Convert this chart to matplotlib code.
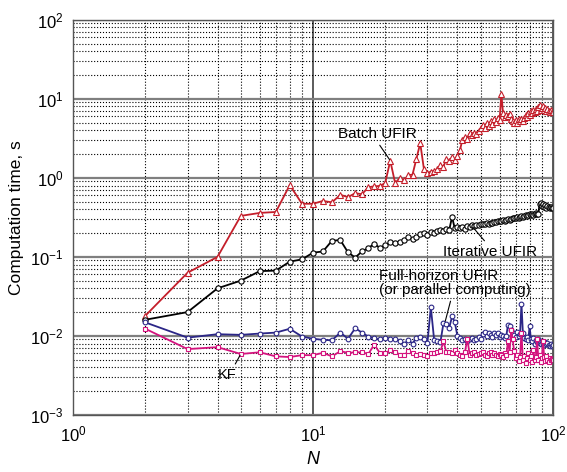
import numpy as np
import matplotlib
matplotlib.use("Agg")
from matplotlib import pyplot as plt

plt.rcParams['font.family'] = ['Liberation Sans', 'DejaVu Sans']
plt.rcParams['mathtext.default'] = 'regular'

# window size N
N = np.arange(2, 101)

# computation time, s
batch_ufir = [0.018, 0.063, 0.10, 0.33, 0.36, 0.37, 0.81, 0.47, 0.47,
              0.51, 0.49, 0.61, 0.57, 0.64, 0.62, 0.76, 0.78, 0.79, 0.86,
              1.65, 0.86, 0.99, 0.93, 1.08, 1.10, 1.75, 2.75, 1.30, 1.15,
              1.20, 1.22, 1.28, 1.45, 1.38, 1.75, 1.62, 1.82, 1.70, 1.90,
              2.25, 3.05, 3.30, 3.10, 3.65, 3.45, 3.70, 3.55, 3.90, 4.25,
              4.60, 4.30, 4.90, 4.50, 5.20, 4.80, 5.50, 5.10, 5.80, 5.40,
              11.5, 6.60, 5.90, 6.30, 6.00, 6.50, 5.60, 5.30, 5.00, 5.40,
              5.00, 5.50, 5.20, 5.60, 5.30, 5.80, 6.20, 5.90, 6.60, 6.20,
              7.00, 6.60, 7.20, 6.80, 7.40, 7.00, 7.80, 8.40, 7.30, 7.60,
              8.00, 7.20, 7.70, 7.00, 7.40, 7.10, 6.90, 7.20, 6.80, 6.90]

iterative_ufir = [0.016, 0.020, 0.040, 0.050, 0.066, 0.067, 0.087, 0.093, 0.113,
                  0.117, 0.160, 0.163, 0.114, 0.098, 0.117, 0.129, 0.146, 0.130, 0.140,
                  0.152, 0.149, 0.155, 0.163, 0.176, 0.168, 0.181, 0.194, 0.198, 0.190,
                  0.206, 0.203, 0.212, 0.218, 0.214, 0.222, 0.220, 0.320, 0.230, 0.236,
                  0.232, 0.240, 0.226, 0.244, 0.238, 0.250, 0.246, 0.254, 0.250, 0.258,
                  0.262, 0.258, 0.268, 0.264, 0.272, 0.270, 0.278, 0.274, 0.282, 0.286,
                  0.284, 0.292, 0.288, 0.296, 0.300, 0.296, 0.304, 0.310, 0.306, 0.314,
                  0.318, 0.312, 0.322, 0.326, 0.320, 0.330, 0.336, 0.328, 0.340, 0.344,
                  0.336, 0.348, 0.342, 0.350, 0.355, 0.350, 0.345, 0.470, 0.480, 0.440,
                  0.460, 0.430, 0.450, 0.420, 0.440, 0.430, 0.420, 0.430, 0.420, 0.420]

full_horizon_ufir = [0.0148, 0.0095, 0.0105, 0.0103, 0.0107, 0.0110, 0.0123, 0.0098, 0.0092,
                     0.0089, 0.0088, 0.0110, 0.0092, 0.0125, 0.0110, 0.0098, 0.0093, 0.0090,
                     0.0095, 0.0092, 0.0091, 0.0086, 0.0079, 0.0088, 0.0080, 0.0095, 0.0098,
                     0.0090, 0.0082, 0.0230, 0.0089, 0.0086, 0.0084, 0.0145, 0.0142, 0.0127,
                     0.0176, 0.0150, 0.0100, 0.0093, 0.0088, 0.0092, 0.0086, 0.0090, 0.0094,
                     0.0088, 0.0092, 0.0096, 0.0090, 0.0105, 0.0113, 0.0100, 0.0110, 0.0104,
                     0.0098, 0.0108, 0.0102, 0.0110, 0.0096, 0.0104, 0.0100, 0.0094, 0.0100,
                     0.0138, 0.0132, 0.0120, 0.0110, 0.0104, 0.0098, 0.0112, 0.0100, 0.0106,
                     0.0255, 0.0110, 0.0094, 0.0090, 0.0096, 0.0088, 0.0132, 0.0092, 0.0086,
                     0.0094, 0.0080, 0.0088, 0.0084, 0.0090, 0.0082, 0.0078, 0.0086, 0.0080,
                     0.0076, 0.0084, 0.0078, 0.0082, 0.0076, 0.0074, 0.0080, 0.0075, 0.0076]

kf = [0.0123, 0.0068, 0.0072, 0.0059, 0.0062, 0.0055, 0.0054, 0.0057, 0.0057,
      0.0061, 0.0055, 0.0064, 0.0061, 0.0062, 0.0062, 0.0059, 0.0077, 0.0061,
      0.0060, 0.0066, 0.0063, 0.0058, 0.0057, 0.0064, 0.0060, 0.0058, 0.0059,
      0.0057, 0.0056, 0.0060, 0.0061, 0.0062, 0.0064, 0.0085, 0.0062, 0.0062,
      0.0060, 0.0066, 0.0061, 0.0058, 0.0056, 0.0062, 0.0092, 0.0058, 0.0060,
      0.0062, 0.0057, 0.0059, 0.0061, 0.0063, 0.0058, 0.0056, 0.0060, 0.0062,
      0.0058, 0.0061, 0.0057, 0.0055, 0.0059, 0.0058, 0.0054, 0.0060, 0.0057,
      0.0086, 0.0062, 0.0118, 0.0090, 0.0064, 0.0052, 0.0058, 0.0048, 0.0054,
      0.0110, 0.0050, 0.0056, 0.0046, 0.0052, 0.0060, 0.0049, 0.0055, 0.0047,
      0.0066, 0.0050, 0.0054, 0.0092, 0.0050, 0.0058, 0.0047, 0.0052, 0.0086,
      0.0054, 0.0048, 0.0056, 0.0050, 0.0047, 0.0053, 0.0049, 0.0051, 0.0050]

fig = plt.figure(figsize=(5.67, 4.72), dpi=100)
ax = fig.add_axes([0.129, 0.121, 0.846, 0.837])

# grid lines (MATLAB look)
ax.grid(True, which='minor', color='black', linestyle=':', linewidth=0.8)
ax.grid(True, which='major', axis='y', color='#7f7f7f', linestyle='-', linewidth=1.6)
ax.grid(True, which='major', axis='x', color='#404040', linestyle='-', linewidth=1.2)
ax.set_axisbelow(True)

ax.plot(N, batch_ufir, color='#c41e2a', linewidth=1.3, marker='^', markersize=3.8,
        markerfacecolor='white', markeredgewidth=0.8)
ax.plot(N, iterative_ufir, color='black', linewidth=1.3, marker='o', markersize=3.8,
        markerfacecolor='white', markeredgewidth=0.8)
ax.plot(N, full_horizon_ufir, color='#2b2687', linewidth=1.3, marker='o', markersize=3.4,
        markerfacecolor='white', markeredgewidth=0.8)
ax.plot(N, kf, color='#d4147e', linewidth=1.3, marker='s', markersize=3.2,
        markerfacecolor='white', markeredgewidth=0.8)

ax.set_xscale('log')
ax.set_yscale('log')
ax.set_xlim(1, 100)
ax.set_ylim(1e-3, 1e2)
ax.tick_params(which='both', direction='in', length=0, labelsize=12, pad=7)
for s in ax.spines.values():
    s.set_color('#555555')
    s.set_linewidth(1.0)

ax.set_xlabel('N', fontsize=13, style='italic', labelpad=5)
ax.set_ylabel('Computation time, s', fontsize=12.5, labelpad=4)

# labels with leader lines
def leader(rx, ry):
    return dict(arrowstyle='-', color='black', linewidth=0.8,
                shrinkA=1, shrinkB=1, relpos=(rx, ry))

ax.annotate('Batch UFIR', xy=(21, 1.65), xytext=(18.5, 2.9), fontsize=11,
            ha='center', va='bottom', arrowprops=leader(0.5, 0.0))
ax.annotate('Iterative UFIR', xy=(46, 0.245), xytext=(55, 0.095), fontsize=11,
            ha='center', va='bottom', arrowprops=leader(0.47, 1.0))
ax.annotate('Full-horizon UFIR\n(or parallel computing)', xy=(35.5, 0.0148), xytext=(18.8, 0.031),
            fontsize=11, ha='left', va='bottom', linespacing=1.0,
            arrowprops=leader(0.48, 0.0))
ax.annotate('KF', xy=(5.0, 0.0059), xytext=(4.4, 0.0032), fontsize=10.5,
            ha='center', va='center', arrowprops=leader(0.8, 1.0))

fig.savefig('out.png', dpi=100)
